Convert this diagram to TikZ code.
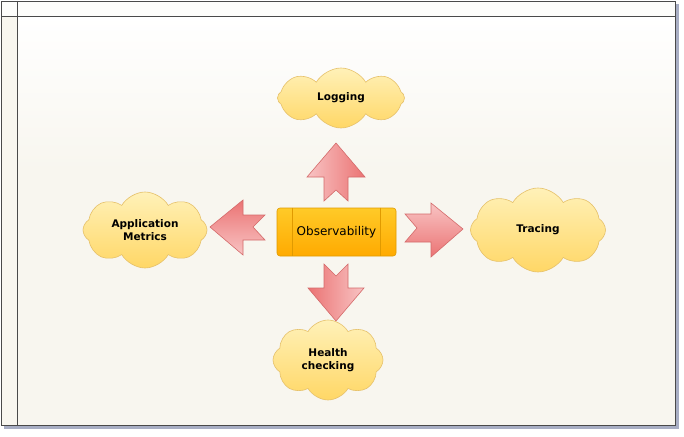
\documentclass[tikz,border=0pt]{standalone}
\usepackage{fontspec}
\setmainfont{DejaVu Sans}
\usetikzlibrary{shapes.symbols}
\definecolor{bgc}{HTML}{F8F6EF}
\definecolor{headc}{HTML}{FDFDFB}
\definecolor{framec}{HTML}{4A4A4A}
\definecolor{shadowc}{HTML}{A8AEC4}
\definecolor{cloudtop}{HTML}{FFF1B8}
\definecolor{cloudbot}{HTML}{FFD766}
\definecolor{cloudline}{HTML}{E6C16A}
\definecolor{boxtop}{HTML}{FFCA28}
\definecolor{boxbot}{HTML}{FFAA00}
\definecolor{boxline}{HTML}{E09A00}
\definecolor{arrdark}{HTML}{EB7373}
\definecolor{arrlight}{HTML}{F8C4C4}
\definecolor{arrline}{HTML}{D46A6A}
\tikzset{
  cloudnode/.style={cloud, cloud puffs=8, cloud puff arc=120, draw=cloudline,
    top color=cloudtop, bottom color=cloudbot, line width=0.6pt,
    font=\fontsize{10.5}{13.5}\selectfont\bfseries, align=center, inner sep=0pt},
  blockarrow/.style={draw=arrline, line width=0.6pt, line join=miter},
  procbox/.style={draw=boxline, rounded corners=3pt, top color=boxtop, bottom color=boxbot,
    line width=0.6pt, minimum width=119pt, minimum height=48pt, inner sep=0pt,
    font=\fontsize{12}{14}\selectfont},
  frameline/.style={draw=framec, line width=0.9pt}
}
\begin{document}
\begin{tikzpicture}[x=1pt,y=-1pt]
\useasboundingbox (0,0) rectangle (684,436);
% frame and background
\fill[shadowc] (4,4) rectangle (679,429);
\fill[bgc] (1,1) rectangle (675,425);
\shade[top color=white, bottom color=bgc] (17,16) rectangle (675,170);
\fill[headc] (1,1) rectangle (675,16);
\draw[frameline] (1,1) rectangle (675,425);
\draw[frameline] (17,1) -- (17,425);
\draw[frameline] (1,16) -- (675,16);
% centre box
\node[procbox] (obs) at (336.5,232) {Observability};
\draw[boxline, line width=0.6pt] ([xshift=16pt]obs.north west) -- ([xshift=16pt]obs.south west);
\draw[boxline, line width=0.6pt] ([xshift=-16pt]obs.north east) -- ([xshift=-16pt]obs.south east);
% clouds
\node[cloudnode, aspect=2.1, minimum width=127pt, minimum height=60pt] (log) at (341,98) {Logging};
\node[cloudnode, aspect=1.63, minimum width=124pt, minimum height=76pt] (app) at (145,230) {Application\\Metrics};
\node[cloudnode, aspect=1.6, minimum width=135pt, minimum height=84pt] (trc) at (538,230) {Tracing};
\node[cloudnode, aspect=1.37, minimum width=110pt, minimum height=80pt] (hlt) at (328,360) {Health\\checking};
% block arrows
\path[blockarrow, left color=arrlight, right color=arrdark]
  (336,143) -- (365,177) -- (348,177) -- (348,201) -- (336,190) -- (324,201) -- (324,177) -- (307,177) -- cycle;
\path[blockarrow, left color=arrdark, right color=arrlight]
  (324,264) -- (336,276) -- (348,264) -- (348,288) -- (364,288) -- (336,321) -- (308,288) -- (324,288) -- cycle;
\path[blockarrow, top color=arrdark, bottom color=arrlight]
  (210,227) -- (243,200) -- (243,215) -- (265,215) -- (253,227) -- (265,240) -- (243,240) -- (243,255) -- cycle;
\path[blockarrow, top color=arrlight, bottom color=arrdark]
  (405,214) -- (431,214) -- (431,203) -- (463,229) -- (431,257) -- (431,242) -- (405,242) -- (417,228) -- cycle;
\end{tikzpicture}
\end{document}
